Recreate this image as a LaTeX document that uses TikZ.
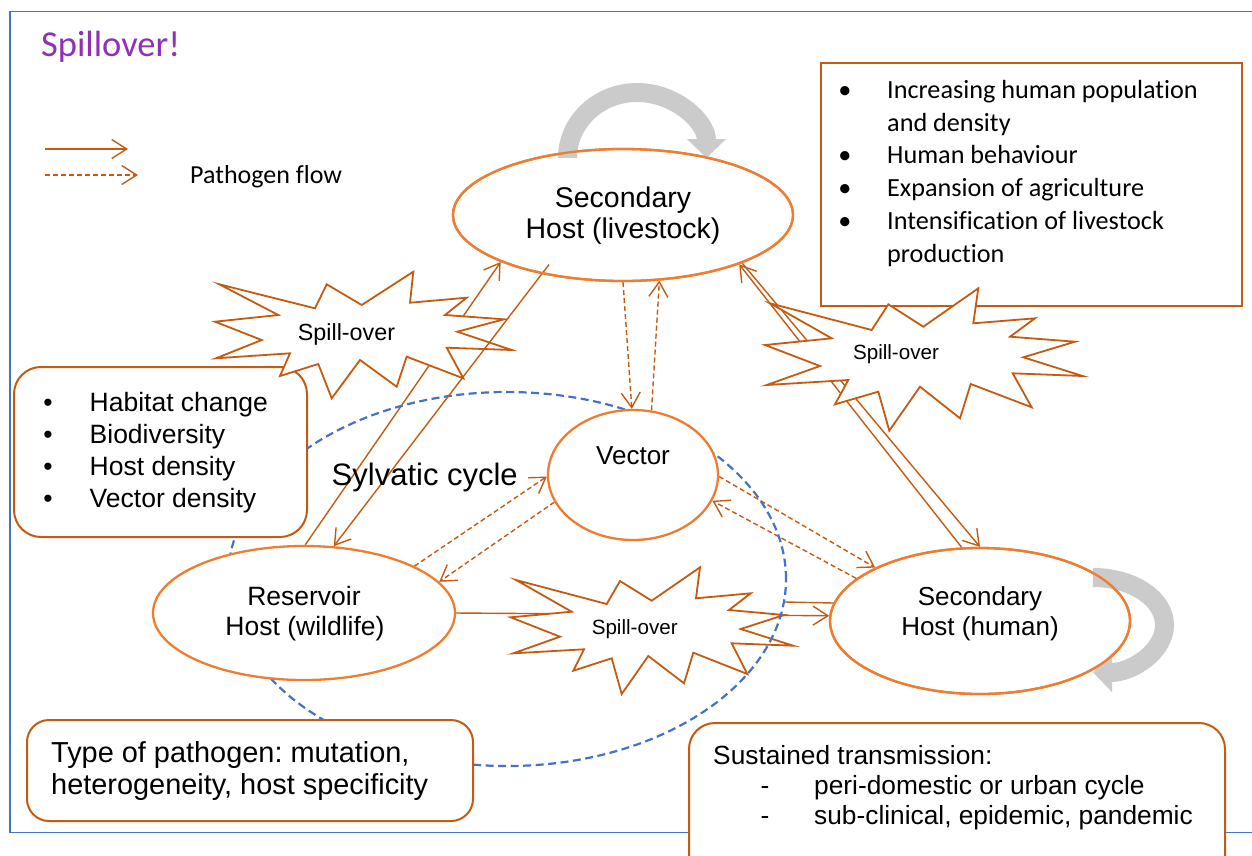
\documentclass[tikz,border=0pt]{standalone}
\usepackage{fontspec}
\setmainfont{Liberation Sans}
\newfontfamily\calfont[Ligatures=NoCommon]{Carlito}
\usetikzlibrary{arrows.meta,shapes.geometric}
\pgfdeclarelayer{L1}
\pgfdeclarelayer{L2}
\pgfdeclarelayer{L3}
\pgfdeclarelayer{L4}
\pgfdeclarelayer{L5}
\pgfdeclarelayer{top}
\pgfdeclarelayer{top2}
\pgfsetlayers{L1,L2,L3,L4,L5,main,top,top2}
\definecolor{ellcol}{HTML}{ED7D31}
\definecolor{lncol}{HTML}{C55A11}
\definecolor{bluecol}{HTML}{4472C4}
\definecolor{graycol}{HTML}{CBCBCB}
\definecolor{titlecol}{HTML}{9030B8}
\newcommand\fsz[2]{\fontsize{#1}{#2}\selectfont}
\frenchspacing
\begin{document}
\begin{tikzpicture}[x=1pt,y=-1pt,
  sol/.style={draw=lncol, line width=1.4pt},
  dsh/.style={sol, dash pattern=on 5pt off 3pt},
  barb/.style={-{Straight Barb[length=15pt,width=19pt]}},
  hostell/.style={ellipse, draw=ellcol, line width=2.3pt, fill=white, inner sep=0pt},
  ellline/.style={draw=ellcol, line width=2.3pt},
  boxr/.style={draw=lncol, line width=2pt, fill=white, inner sep=0pt},
  burst/.style={draw=lncol, fill=white, line width=1.8pt, line join=miter},
  txt/.style={inner sep=0pt, anchor=base west},
  btxt/.style={inner sep=0pt, anchor=base},
  loopar/.style={draw=graycol, line width=19pt, -{Triangle[length=19pt,width=38pt]}},
]
\useasboundingbox (0,0) rectangle (1252,855);
\clip (0,0) rectangle (1252,855);

% host ellipses
\node[hostell, minimum width=340pt, minimum height=132pt] (ls) at (623,215) {};
\node[hostell, minimum width=170pt, minimum height=130pt] (vec) at (633,475) {};
\node[hostell, minimum width=302pt, minimum height=134pt] (rs) at (304,613) {};
\node[hostell, minimum width=300pt, minimum height=146pt] (hh) at (980,621) {};

\begin{pgfonlayer}{L1}
  \draw[bluecol, line width=1.2pt] (10,11.5) rectangle (1262,832.5);
  % legend
  \coordinate (a1) at (45,149); \coordinate (a2) at (128,149);
  \coordinate (b1) at (45,175); \coordinate (b2) at (138,175);
  \draw[sol,barb] (a1) -- (a2);
  \draw[dsh,barb] (b1) -- (b2);
  % connectors under shapes
  \draw[sol,barb] (rs.89) -- (ls.201);
  \draw[sol,barb] (hh.104) -- (ls.337);
  \draw[sol,barb] (ls.338) -- (hh.90);
  \draw[sol,barb] (rs.0) -- (hh.178);
  \coordinate (seg) at (785,602);
  \draw[sol] (seg) -- (hh.173);
  \draw[dsh,barb] (ls.270) -- (vec.91);
  \draw[dsh,barb] (vec.74) -- (ls.299);
  \draw[dsh,barb] (rs.23) -- (vec.181);
  \draw[dsh,barb] (vec.199) -- (rs.13);
  \draw[dsh,barb] (vec.359) -- (hh.153);
  \draw[dsh,barb] (hh.161) -- (vec.342);
\end{pgfonlayer}

\begin{pgfonlayer}{L2}
  % bottom spill-over burst
  \draw[burst] (516,580) -- (606.7,604) -- (620,581) -- (651.7,600.7) -- (700,567.3) -- (696,598.3) -- (750.7,593.3) -- (729,610) -- (784,615) -- (740.7,629) -- (793.3,645.7) -- (731.7,643.3) -- (747.3,674) -- (693.3,652.7) -- (684,683.3) -- (648.3,656) -- (621.7,694) -- (611.7,658.3) -- (573.3,670.7) -- (584,649.3) -- (513.3,653.3) -- (560,636.7) -- (510.7,617.3) -- (571.7,611.7) -- cycle;
\end{pgfonlayer}

\begin{pgfonlayer}{L3}
  \draw[bluecol, line width=2.2pt, dash pattern=on 8pt off 4.5pt] (507,579) ellipse[x radius=279pt, y radius=187pt];
\end{pgfonlayer}

\begin{pgfonlayer}{L4}
  \node[boxr, minimum width=421pt, minimum height=243pt] (fac) at (1031.5,184.5) {};
  \node[boxr, rounded corners=27pt, minimum width=293pt, minimum height=170pt] (hab) at (160.5,452) {};
  \node[boxr, rounded corners=22pt, minimum width=446pt, minimum height=101pt] (pat) at (250,770.5) {};
  \node[boxr, rounded corners=26pt, minimum width=536pt, minimum height=160pt] (sus) at (957,803) {};
\end{pgfonlayer}

\begin{pgfonlayer}{L5}
  % top-left burst
  \draw[burst] (219.3,284.3) -- (315,308.3) -- (326.7,284.3) -- (361.7,305) -- (413.3,271.7) -- (410,302.7) -- (466.7,297.7) -- (445,315) -- (504,319.3) -- (457.3,331.7) -- (511.7,350) -- (446.7,347.7) -- (463.3,378.3) -- (406.7,356.7) -- (396.7,386.7) -- (360,360) -- (331.7,398.3) -- (318.3,364) -- (280,376) -- (290,353.3) -- (216,358.3) -- (261.7,340) -- (215,321.7) -- (278.3,315) -- cycle;
  % right burst
  \draw[burst] (888.3,304.3) -- (923.3,326.7) -- (978.3,288.3) -- (973.3,323.3) -- (1035,318.3) -- (1010,336.7) -- (1075,341.7) -- (1023.3,357.3) -- (1082.7,376) -- (1012.7,373.3) -- (1031.7,407.3) -- (970.7,384) -- (960,418.3) -- (920,386.7) -- (889.3,430.7) -- (878.3,391.7) -- (835,404.3) -- (848.3,380) -- (766.7,385) -- (820,366) -- (765,345) -- (831.7,338.3) -- (770,303.3) -- (871.7,330) -- cycle;
\end{pgfonlayer}

\begin{pgfonlayer}{top}
  \draw[sol,barb,shorten <=-12pt] (ls.216) -- (rs.66);
  \draw[loopar] (567.5,158) arc[start angle=180, end angle=0, x radius=69.5pt, y radius=65.5pt];
  \draw[loopar] (1093,577.5) arc[start angle=90, end angle=-90, x radius=71.5pt, y radius=47.5pt];
\end{pgfonlayer}

\begin{pgfonlayer}{top2}
  \draw[ellline] (ls.center) ellipse[x radius=170pt, y radius=66pt];
  \draw[ellline] (hh.center) ellipse[x radius=150pt, y radius=73pt];

  % title and legend
  \node[txt, font=\calfont\fsz{36.5}{40}, text=titlecol] (title) at (41,56) {Spillover!};
  \node[txt, font=\calfont\fsz{26}{30}] (leg) at (190,183) {Pathogen flow};

  % host labels
  \node[btxt, font=\fsz{28.5}{31}] (ls1) at (623,207) {Secondary};
  \node[btxt, font=\fsz{28.5}{31}] (ls2) at (623,238) {Host (livestock)};
  \node[btxt, font=\fsz{26}{30}] (vec1) at (633,464) {Vector};
  \node[btxt, font=\fsz{26.5}{30}] (rs1) at (304,605) {Reservoir};
  \node[btxt, font=\fsz{26.5}{30}] (rs2) at (305,635) {Host (wildlife)};
  \node[btxt, font=\fsz{26}{30}] (hh1) at (980,605.5) {Secondary};
  \node[btxt, font=\fsz{26}{30}] (hh2) at (980,635) {Host (human)};
  \node[txt, font=\fsz{31}{34}] (syl) at (331.5,485) {Sylvatic cycle};

  % spill-over labels
  \node[btxt, font=\fsz{23.3}{26}] (sp1) at (346.5,340.5) {Spill-over};
  \node[btxt, font=\fsz{20.6}{24}] (sp2) at (896,359.3) {Spill-over};
  \node[btxt, font=\fsz{20.6}{24}] (sp3) at (634.7,634) {Spill-over};

  % factors box
  \begin{scope}[every node/.append style={font=\calfont\fsz{26.2}{33}}]
    \node[btxt] (fb1) at (845,98) {•};
    \node[btxt] (fb3) at (845,163.5) {•};
    \node[btxt] (fb4) at (845,196) {•};
    \node[btxt] (fb5) at (845,229) {•};
    \node[txt] (f1) at (887,98) {Increasing human population};
    \node[txt] (f2) at (887,131) {and density};
    \node[txt] (f3) at (887,163.5) {Human behaviour};
    \node[txt] (f4) at (887,196) {Expansion of agriculture};
    \node[txt] (f5) at (887,229) {Intensification of livestock};
    \node[txt] (f6) at (887,262) {production};
  \end{scope}

  % habitat box
  \begin{scope}[every node/.append style={font=\fsz{26.5}{32}}]
    \node[btxt] (hb1) at (48,411) {•};
    \node[btxt] (hb2) at (48,443) {•};
    \node[btxt] (hb3) at (48,475) {•};
    \node[btxt] (hb4) at (48,507) {•};
    \node[txt] (h1) at (89.5,411) {Habitat change};
    \node[txt] (h2) at (89.5,443) {Biodiversity};
    \node[txt] (h3) at (89.5,475) {Host density};
    \node[txt] (h4) at (89.5,507) {Vector density};
  \end{scope}

  % pathogen box
  \node[txt, font=\fsz{28.9}{32}] (p1) at (51,762) {Type of pathogen: mutation,};
  \node[txt, font=\fsz{28.9}{32}] (p2) at (51,794) {heterogeneity, host specificity};

  % sustained box
  \begin{scope}[every node/.append style={font=\fsz{26.3}{30}}]
    \node[txt] (s1) at (713,764) {Sustained transmission:};
    \node[btxt] (sd2) at (765,794) {-};
    \node[btxt] (sd3) at (765,824) {-};
    \node[txt] (s2) at (814,794) {peri-domestic or urban cycle};
    \node[txt] (s3) at (814,824) {sub-clinical, epidemic, pandemic};
  \end{scope}
\end{pgfonlayer}
\end{tikzpicture}
\end{document}
